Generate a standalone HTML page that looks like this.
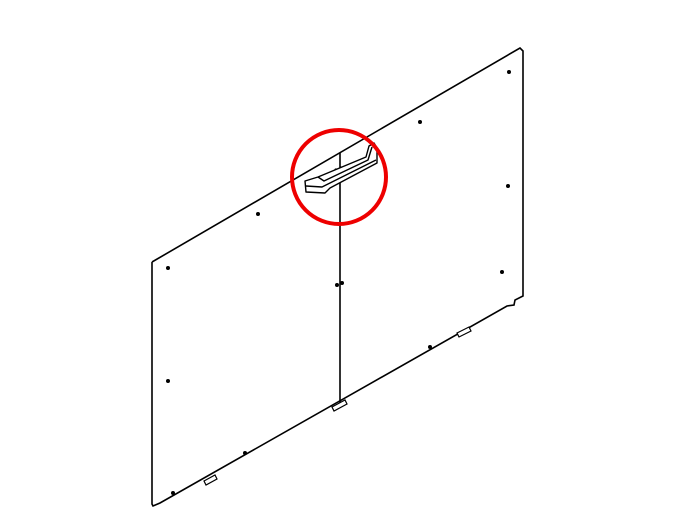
<!DOCTYPE html>
<html><head><meta charset="utf-8"><style>body{margin:0;background:#fff}svg{display:block}</style></head>
<body>
<svg width="700" height="525" viewBox="0 0 700 525" xmlns="http://www.w3.org/2000/svg">
<g fill="none" stroke="#000" stroke-width="1.6">
<polyline points="152,262 520,48 523,51 523,296 515,300 514,305 507,306 160,503 153,506 152,504 152,262"/>
<line x1="340" y1="153" x2="340" y2="404"/>
</g>
<g fill="#000">
<circle cx="258" cy="214" r="2"/><circle cx="168" cy="268" r="2"/><circle cx="420" cy="122" r="2"/>
<circle cx="509" cy="72" r="2"/><circle cx="508" cy="186" r="2"/><circle cx="502" cy="272" r="2"/>
<circle cx="430" cy="347" r="2"/><circle cx="168" cy="381" r="2"/><circle cx="245" cy="453" r="2"/>
<circle cx="173" cy="493" r="2"/><circle cx="337" cy="285" r="2"/><circle cx="342" cy="283" r="2"/>
<circle cx="336" cy="170" r="1.6"/><circle cx="341" cy="168" r="1.6"/>
</g>
<g fill="#fff" stroke="#000" stroke-width="1.2">
<polygon points="204,481 215,475 217,479 206,485"/>
<polygon points="332,407 345,400 347,404 334,411"/>
<polygon points="457,333 469,327 471,331 459,337"/>
</g>
<g fill="#fff" stroke="#000" stroke-width="1.4" stroke-linejoin="round">
<polygon points="305,181 318,177 366,157 369,146 374,143 377,148 377,163 330,188 325,193 306,192"/>
<polyline points="306,186 322,187 376,160" fill="none"/>
<polyline points="318,177 324,181 368,160 372,147" fill="none"/>
</g>
<circle cx="339" cy="177" r="47" fill="none" stroke="#e00" stroke-width="4"/>
</svg>
</body></html>
